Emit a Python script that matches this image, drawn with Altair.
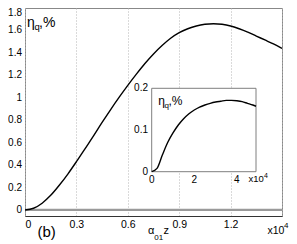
import altair as alt
import pandas as pd

# main curve (x in units of 1e4)
main_x = [0, 0.05, 0.1, 0.15, 0.2, 0.25, 0.3, 0.35, 0.4, 0.45, 0.5, 0.55, 0.6, 0.65,
          0.7, 0.75, 0.8, 0.85, 0.9, 0.95, 1.0, 1.05, 1.1, 1.15, 1.2, 1.25, 1.3, 1.35,
          1.4, 1.45, 1.5]
main_y = [0, 0.015, 0.06, 0.13, 0.22, 0.32, 0.43, 0.545, 0.66, 0.78, 0.895, 1.005, 1.11, 1.21,
          1.305, 1.39, 1.465, 1.53, 1.58, 1.615, 1.64, 1.655, 1.66, 1.655, 1.64, 1.615, 1.585, 1.55,
          1.515, 1.48, 1.44]

# inset curve (x in units of 1e4)
inset_x = [0, 0.25, 0.5, 0.75, 1.0, 1.25, 1.5, 1.75, 2.0, 2.25, 2.5, 2.75, 3.0, 3.25,
           3.5, 3.75, 4.0, 4.25, 4.5, 4.75, 4.9]
inset_y = [0, 0.008, 0.04, 0.07, 0.093, 0.112, 0.127, 0.139, 0.148, 0.155, 0.16, 0.164, 0.167, 0.169,
           0.171, 0.171, 0.17, 0.168, 0.164, 0.16, 0.157]

main_xticks = [0, 0.3, 0.6, 0.9, 1.2, 1.5]
main_yticks = [0, 0.2, 0.4, 0.6, 0.8, 1.0, 1.2, 1.4, 1.6]
main_ylabels = ["0", "0.2", "0.4", "0.6", "0.8", "1", "1.2", "1.4", "1.6"]
main_ytop = [1.8]
main_ytop_label = ["1.8"]
inset_xticks = [0, 2, 4]
inset_yticks = [0, 0.1, 0.2]
inset_xlabels = ["0", "2", "4"]
inset_ylabels = ["0", "0.1", "0.2"]

FONT = "Liberation Sans"
W, H = 257, 208

xs = alt.Scale(domain=[0, 1.5], nice=False, zero=False)
ys = alt.Scale(domain=[-0.054, 1.8], nice=False, zero=False)

df_main = pd.DataFrame({"x": main_x, "y": main_y})
df_inset = pd.DataFrame({"x": inset_x, "y": inset_y})

x_axis = alt.Axis(values=main_xticks, grid=True, gridDash=[1, 2], gridColor="#b5b5b5",
                  ticks=False, domainColor="#333", labelExpr="datum.value > 1.45 ? '' : format(datum.value, '~g')",
                  labelFont=FONT, labelFontSize=10.5, labelColor="black", labelPadding=3, title=None)
y_axis = alt.Axis(values=main_yticks + main_ytop, grid=True, gridDash=[1, 2], gridColor="#b5b5b5",
                  ticks=False, domainColor="#333", labels=False, title=None)

zero_line = alt.Chart(pd.DataFrame({"y": [0]})).mark_rule(color="#9a9a9a", strokeWidth=2.2).encode(
    y=alt.Y("y:Q", scale=ys, axis=None))

main_line = alt.Chart(df_main).mark_line(color="black", strokeWidth=1.4, interpolate="monotone").encode(
    x=alt.X("x:Q", scale=xs, axis=x_axis),
    y=alt.Y("y:Q", scale=ys, axis=y_axis))

main_ylab = alt.Chart(pd.DataFrame({"v": main_yticks, "t": main_ylabels})).mark_text(
    font=FONT, fontSize=10, color="black", align="right", baseline="middle").encode(
    y=alt.Y("v:Q", scale=ys, axis=None), x=alt.value(-3), text="t:N")

main_ylab_top = alt.Chart(pd.DataFrame({"v": main_ytop, "t": main_ytop_label})).mark_text(
    font=FONT, fontSize=10, color="black", align="right", baseline="top", dy=-0.5).encode(
    y=alt.Y("v:Q", scale=ys, axis=None), x=alt.value(-3), text="t:N")


def txt(s, x, y, size, align="left"):
    return alt.Chart(pd.DataFrame({"t": [s]})).mark_text(
        font=FONT, fontSize=size, color="black", align=align, baseline="alphabetic").encode(
        x=alt.value(x), y=alt.value(y), text="t:N")


main_texts = [
    txt("η", 1.9, 18.7, 14), txt("q", 9.4, 21.8, 9.5), txt(",%", 14.0, 18.7, 14),
    txt("(b)", 12.5, 229, 15),
    txt("α", 123, 226, 11), txt("01", 129.2, 232, 8), txt("z", 138.6, 226, 11),
    txt("x10", 242.5, 225.5, 10.5), txt("4", 259, 220, 8),
]

main = alt.layer(zero_line, main_line, main_ylab, main_ylab_top, *main_texts)

# inset placed inside the main plot area
ixs = alt.Scale(domain=[0, 4.9], range=[126.7, 231], nice=False, zero=False)
iys = alt.Scale(domain=[0, 0.2], range=[163.7, 80.3], nice=False, zero=False)

inset_bg = alt.Chart(pd.DataFrame({"x": [0], "x2": [4.9], "y": [0], "y2": [0.2]})).mark_rect(
    fill="white", stroke="#7f7f7f", strokeWidth=1).encode(
    x=alt.X("x:Q", scale=ixs, axis=None), x2="x2:Q",
    y=alt.Y("y:Q", scale=iys, axis=None), y2="y2:Q")

inset_line = alt.Chart(df_inset).mark_line(color="black", strokeWidth=1.4, interpolate="monotone").encode(
    x=alt.X("x:Q", scale=ixs, axis=None),
    y=alt.Y("y:Q", scale=iys, axis=None))

inset_xlab = alt.Chart(pd.DataFrame({"v": inset_xticks, "t": inset_xlabels})).mark_text(
    font=FONT, fontSize=10, color="black", align="center", baseline="top").encode(
    x=alt.X("v:Q", scale=ixs, axis=None), y=alt.value(166.5), text="t:N")

inset_ylab = alt.Chart(pd.DataFrame({"v": inset_yticks, "t": inset_ylabels})).mark_text(
    font=FONT, fontSize=10, color="black", align="right", baseline="middle").encode(
    y=alt.Y("v:Q", scale=iys, axis=None), x=alt.value(123), text="t:N")

inset_texts = [
    txt("η", 133.3, 97, 12), txt("q", 139.6, 100, 8), txt(",%", 143.4, 97, 12),
    txt("x10", 223.5, 174, 9.5), txt("4", 239, 169.5, 7),
]

inset = alt.layer(inset_bg, inset_line, inset_xlab, inset_ylab, *inset_texts)

chart = alt.layer(main, inset).resolve_scale(x="independent", y="independent").properties(
    width=W, height=H,
    autosize=alt.AutoSizeParams(type="none"),
    padding={"left": 17, "top": 0, "right": 7, "bottom": 26},
).configure_view(stroke="#888", strokeWidth=1)

chart.save("out.html", embed_options={"renderer": "svg", "actions": False})
